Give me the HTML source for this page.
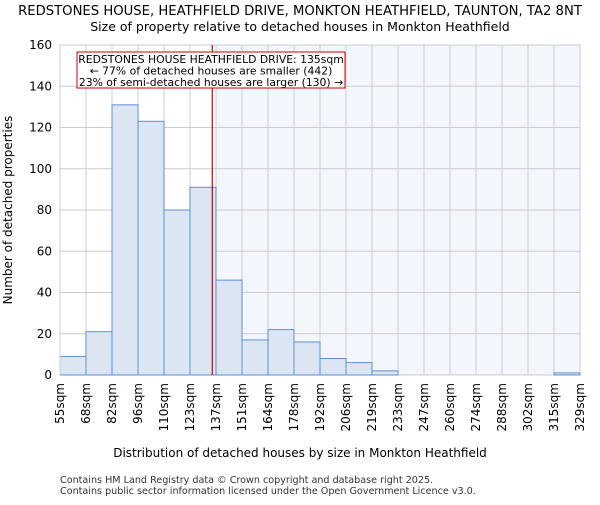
<!DOCTYPE html>
<html><head><meta charset="utf-8"><style>
body{margin:0;background:#fff}
svg{font-family:"DejaVu Sans","Liberation Sans",sans-serif}
</style></head><body>
<svg id="chart" width="600" height="500">
<text x="300" y="15" text-anchor="middle" font-size="13.2">REDSTONES HOUSE, HEATHFIELD DRIVE, MONKTON HEATHFIELD, TAUNTON, TA2 8NT</text>
<text x="300" y="31" text-anchor="middle" font-size="12.5">Size of property relative to detached houses in Monkton Heathfield</text>
<g id="plot"></g>
<text x="300" y="457" text-anchor="middle" font-size="12">Distribution of detached houses by size in Monkton Heathfield</text>
<text transform="translate(12,210) rotate(-90)" text-anchor="middle" font-size="12">Number of detached properties</text>
<text x="60" y="483" font-size="9.6" fill="#333">Contains HM Land Registry data © Crown copyright and database right 2025.</text>
<text x="60" y="494" font-size="9.6" fill="#333">Contains public sector information licensed under the Open Government Licence v3.0.</text>
</svg>
<script>
const categories=["55sqm","68sqm","82sqm","96sqm","110sqm","123sqm","137sqm","151sqm","164sqm","178sqm","192sqm","206sqm","219sqm","233sqm","247sqm","260sqm","274sqm","288sqm","302sqm","315sqm","329sqm"];
const counts=[9,21,131,123,80,91,46,17,22,16,8,6,2,0,0,0,0,0,0,1];
const yTicks=[0,20,40,60,80,100,120,140,160];
const markerValue=135;
const edges=[55,68,82,96,110,123,137,151,164,178,192,206,219,233,247,260,274,288,302,315,329];
const L=60,R=580,T=45,B=375,ymax=160;
const bw=(R-L)/counts.length;
const x=i=>L+i*bw;
const y=v=>B-(v/ymax)*(B-T);
function xv(v){for(let i=0;i<edges.length-1;i++){if(v>=edges[i]&&v<=edges[i+1])return x(i)+bw*(v-edges[i])/(edges[i+1]-edges[i]);}return R;}
const NS="http://www.w3.org/2000/svg";
const g=document.getElementById('plot');
function el(t,a){const e=document.createElementNS(NS,t);for(const k in a)e.setAttribute(k,a[k]);g.appendChild(e);return e;}
let mi=edges.findIndex((e,i)=>markerValue>=e&&markerValue<edges[i+1]);
let sx=x(mi+1);
let sh=el('rect',{x:sx,y:T,width:R-sx,height:B-T,fill:'#f3f6fd'});


for(let i=0;i<=counts.length;i++){let l=el('line',{x1:x(i),x2:x(i),y1:T,y2:B,stroke:'#ccc','stroke-width':1});}
yTicks.forEach(t=>{let l=el('line',{x1:L,x2:R,y1:y(t),y2:y(t),stroke:'#ccc','stroke-width':1});
let tx=el('text',{x:L-8,y:y(t)+4,'text-anchor':'end','font-size':12});tx.textContent=t;});
counts.forEach((c,i)=>{if(c<=0)return;let r=el('rect',{x:x(i),y:y(c),width:bw,height:B-y(c),fill:'#dce6f3',stroke:'#5b8fd6','stroke-width':1});});
categories.forEach((c,i)=>{let tx=el('text',{transform:`translate(${x(i)+4},${B+8}) rotate(-90)`,'text-anchor':'end','font-size':12});tx.textContent=c;});
let ax=el('line',{x1:L,x2:L,y1:T,y2:B,stroke:'#ccc'});
let mx=xv(markerValue);
let ml=el('line',{x1:mx,x2:mx,y1:T,y2:B,stroke:'#cc0000','stroke-width':1.2});
let box=el('rect',{x:77,y:52,width:268,height:36,fill:'#fff',stroke:'#cc0000','stroke-width':1});
["REDSTONES HOUSE HEATHFIELD DRIVE: 135sqm","← 77% of detached houses are smaller (442)","23% of semi-detached houses are larger (130) →"].forEach((s,i)=>{let tx=el('text',{x:211,y:63+i*11.5,'text-anchor':'middle','font-size':10.8});tx.textContent=s;});
</script>
</body></html>
